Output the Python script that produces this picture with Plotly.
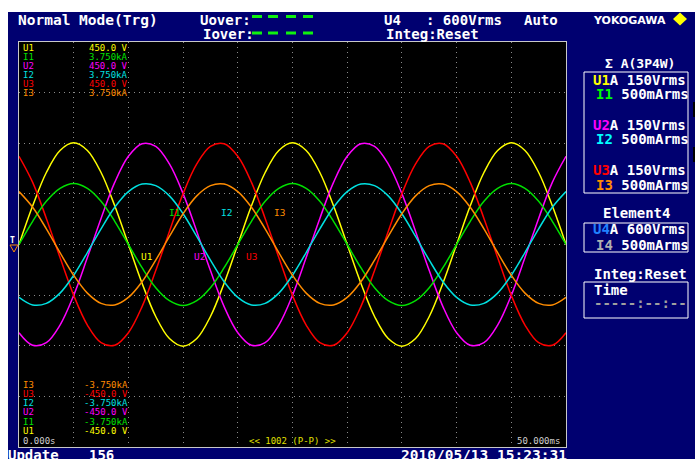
import plotly.graph_objects as go

time_ms = [0.0, 1.25, 2.5, 3.75, 5.0, 6.25, 7.5, 8.75, 10.0, 11.25, 12.5, 13.75, 15.0, 16.25,
           17.5, 18.75, 20.0, 21.25, 22.5, 23.75, 25.0, 26.25, 27.5, 28.75, 30.0, 31.25, 32.5,
           33.75, 35.0, 36.25, 37.5, 38.75, 40.0, 41.25, 42.5, 43.75, 45.0, 46.25, 47.5, 48.75, 50.0]

u1_v = [0, 86, 160, 209, 226, 209, 160, 86, 0, -86, -160, -209, -226, -209, -160, -86,
        0, 86, 160, 209, 226, 209, 160, 86, 0, -86, -160, -209, -226, -209, -160, -86,
        0, 86, 160, 209, 226, 209, 160, 86, 0]
u2_v = [-196, -224, -218, -179, -113, -29, 58, 138, 196, 224, 218, 179, 113, 29, -58, -138,
        -196, -224, -218, -179, -113, -29, 58, 138, 196, 224, 218, 179, 113, 29, -58, -138,
        -196, -224, -218, -179, -113, -29, 58, 138, 196]
u3_v = [196, 138, 58, -29, -113, -179, -218, -224, -196, -138, -58, 29, 113, 179, 218, 224,
        196, 138, 58, -29, -113, -179, -218, -224, -196, -138, -58, 29, 113, 179, 218, 224,
        196, 138, 58, -29, -113, -179, -218, -224, -196]
i1_ka = [0.0, 0.43, 0.80, 1.04, 1.13, 1.04, 0.80, 0.43, 0.0, -0.43, -0.80, -1.04, -1.13, -1.04, -0.80, -0.43,
         0.0, 0.43, 0.80, 1.04, 1.13, 1.04, 0.80, 0.43, 0.0, -0.43, -0.80, -1.04, -1.13, -1.04, -0.80, -0.43,
         0.0, 0.43, 0.80, 1.04, 1.13, 1.04, 0.80, 0.43, 0.0]
i2_ka = [-0.98, -1.12, -1.09, -0.90, -0.57, -0.15, 0.29, 0.69, 0.98, 1.12, 1.09, 0.90, 0.57, 0.15, -0.29, -0.69,
         -0.98, -1.12, -1.09, -0.90, -0.57, -0.15, 0.29, 0.69, 0.98, 1.12, 1.09, 0.90, 0.57, 0.15, -0.29, -0.69,
         -0.98, -1.12, -1.09, -0.90, -0.57, -0.15, 0.29, 0.69, 0.98]
i3_ka = [0.98, 0.69, 0.29, -0.15, -0.57, -0.90, -1.09, -1.12, -0.98, -0.69, -0.29, 0.15, 0.57, 0.90, 1.09, 1.12,
         0.98, 0.69, 0.29, -0.15, -0.57, -0.90, -1.09, -1.12, -0.98, -0.69, -0.29, 0.15, 0.57, 0.90, 1.09, 1.12,
         0.98, 0.69, 0.29, -0.15, -0.57, -0.90, -1.09, -1.12, -0.98]

channel_names = ["U1", "I1", "U2", "I2", "U3", "I3"]
channel_colors = ["#ffff00", "#00e000", "#ff00ff", "#00e0e0", "#ff0000", "#ff8c00"]
upper_scale = ["450.0 V", "3.750kA", "450.0 V", "3.750kA", "450.0 V", "3.750kA"]
lower_scale = ["-450.0 V", "-3.750kA", "-450.0 V", "-3.750kA", "-450.0 V", "-3.750kA"]
voltage_range = [-450, 450]
current_range = [-3.75, 3.75]
time_range = [0, 50]

# ---------------- figure ----------------
W, H = 695, 459
NAVY = "#000070"
MONO = "DejaVu Sans Mono"

series = [u1_v, i1_ka, u2_v, i2_ka, u3_v, i3_ka]
axes = ["y", "y2", "y", "y2", "y", "y2"]

fig = go.Figure()
for name, vals, col, ax in zip(channel_names, series, channel_colors, axes):
    fig.add_trace(go.Scatter(x=time_ms, y=vals, name=name, mode="lines", yaxis=ax,
                             line=dict(color=col, width=1.5, shape="spline", smoothing=1.0),
                             hoverinfo="skip", showlegend=False))


def fx(px):
    return px / W


def fy(py):
    return 1 - py / H


ann = []


def txt(x, y, s, color="white", size=14, anchor="left", family=MONO, bold=True):
    ann.append(dict(x=fx(x), y=fy(y), xref="paper", yref="paper",
                    text=("<b>%s</b>" % s) if bold else s, showarrow=False,
                    xanchor=anchor, yanchor="middle", borderpad=0,
                    font=dict(family=family, size=size, color=color)))


# header
txt(17, 20, "Normal Mode(Trg)", size=14.5)
txt(199, 20, "Uover:")
txt(202, 34, "Iover:")
txt(383, 20, "U4")
txt(425, 20, ": 600Vrms")
txt(523, 20, "Auto")
txt(592, 20, "YOKOGAWA", family="DejaVu Sans", size=11)
txt(385, 34, "Integ:Reset")

# channel scale labels (top and bottom)
top_y = [47.5, 56.7, 65.8, 75.0, 84.2, 93.4]
for n, v, c, y in zip(channel_names, upper_scale, channel_colors, top_y):
    txt(22, y, n, color=c, size=9, bold=False)
    txt(129, y, v, color=c, size=9, anchor="right", bold=False)
bot_y = [431, 421.7, 412.3, 403.3, 394, 385]
for n, v, c, y in zip(channel_names, lower_scale, channel_colors, bot_y):
    txt(22, y, n, color=c, size=9, bold=False)
    txt(129, y, v, color=c, size=9, anchor="right", bold=False)
txt(22, 440.5, "0.000s", color="#d0d0d0", size=9, bold=False)
txt(516, 440.5, "50.000ms", color="#d0d0d0", size=9, bold=False)
txt(248, 440.5, "&lt;&lt; 1002 (P-P) &gt;&gt;", color="#e0e000", size=9, bold=False)

# waveform labels
for n, c, x, y in [("I1", "#00e000", 168, 212), ("I2", "#00e0e0", 220, 212), ("I3", "#ff8c00", 273, 212),
                   ("U1", "#ffff00", 140, 256), ("U2", "#ff00ff", 193, 256), ("U3", "#ff0000", 245, 256)]:
    txt(x, y, n, color=c, size=9.5, bold=False)

# right panel
txt(640, 64, "Σ A(3P4W)", size=13, anchor="center")


def span(s, c):
    return '<span style="color:%s">%s</span>' % (c, s)


rows = [(80, span("U1", "#ffff00") + "A 150Vrms", 592), (94, span("I1", "#00ff00") + " 500mArms", 595),
        (125, span("U2", "#ff00ff") + "A 150Vrms", 592), (139, span("I2", "#00ffff") + " 500mArms", 595),
        (170, span("U3", "#ff0000") + "A 150Vrms", 592), (185, span("I3", "#ff8c00") + " 500mArms", 595),
        (229, span("U4", "#2080ff") + "A 600Vrms", 592), (245, span("I4", "#b0b0b0") + " 500mArms", 595)]
for y, s, x in rows:
    txt(x, y, s, size=14)
txt(636, 213, "Element4", size=14, anchor="center")
txt(593, 274, "Integ:Reset", size=14)
txt(593, 290, "Time", size=14)
txt(593, 303, "-----:--:--", color="#a0a0a0", size=14)

# footer
txt(7, 455, "Update", size=14)
txt(88, 455, "156", size=14)
txt(400, 455, "2010/05/13 15:23:31", size=14.5)

# trigger marker
txt(9, 240, "T", size=8, bold=True)

shapes = []


def rect(x0, y0, x1, y1, fill=None, line=None, lw=1):
    shapes.append(dict(type="rect", xref="paper", yref="paper",
                       x0=fx(x0), x1=fx(x1), y0=fy(y1), y1=fy(y0),
                       fillcolor=fill if fill else "rgba(0,0,0,0)",
                       line=dict(color=line if line else "rgba(0,0,0,0)", width=lw if line else 0)))


def path(pts, fill=None, line=None):
    d = "M " + " L ".join("%f,%f" % (fx(x), fy(y)) for x, y in pts) + " Z"
    shapes.append(dict(type="path", xref="paper", yref="paper", path=d,
                       fillcolor=fill if fill else "rgba(0,0,0,0)",
                       line=dict(color=line if line else "rgba(0,0,0,0)", width=1 if line else 0)))


rect(0, 0, 695, 12, fill="white")
rect(0, 0, 8, 459, fill="white")
for yy in (15, 31.5):
    for xx in (252, 268, 286, 303):
        rect(xx, yy, xx + 10, yy + 3, fill="#10f010")
path([(673, 19), (680, 12.5), (687, 19), (680, 25.5)], fill="#ffff00")
rect(584, 72, 688, 193, line="white")
rect(584, 223, 688, 252, line="white")
rect(584, 282, 688, 318, line="white")
rect(693, 102, 695, 117, fill="black")
rect(693, 147, 695, 162, fill="black")
path([(10, 245), (18, 245), (14, 252)], line="#ff8c00")

fig.update_layout(
    width=W, height=H, autosize=False,
    margin=dict(l=0, r=0, t=0, b=0, pad=0),
    paper_bgcolor=NAVY, plot_bgcolor="black",
    annotations=ann, shapes=shapes, showlegend=False,
    xaxis=dict(domain=[19 / W, 566 / W], range=time_range, dtick=5, tick0=0,
               showticklabels=False, ticks="", showgrid=True, gridcolor="#8a8a8a",
               griddash="1px,4px", gridwidth=1, zeroline=False,
               showline=True, mirror=True, linecolor="#c8c8c8", linewidth=1, fixedrange=True),
    yaxis=dict(domain=[12 / H, 417 / H], range=voltage_range, dtick=112.5, tick0=0,
               showticklabels=False, ticks="", showgrid=True, gridcolor="#8a8a8a",
               griddash="1px,4px", gridwidth=1, zeroline=False,
               showline=True, mirror=True, linecolor="#c8c8c8", linewidth=1, fixedrange=True),
    yaxis2=dict(overlaying="y", range=current_range, showticklabels=False, ticks="",
                showgrid=False, zeroline=False, showline=False, fixedrange=True),
)

fig.write_html("out.html", config={"displayModeBar": False, "staticPlot": True},
               post_script="document.body.style.margin='0px';document.body.style.overflow='hidden';")
